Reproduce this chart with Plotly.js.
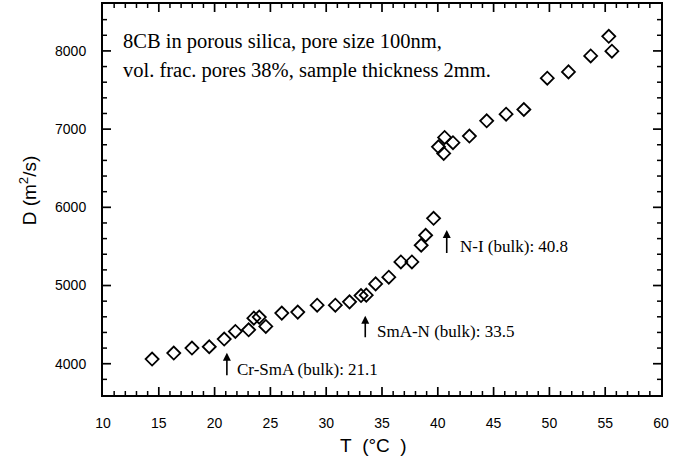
<!DOCTYPE html>
<html>
<head>
<meta charset="utf-8">
<script src="https://cdn.plot.ly/plotly-3.0.1.min.js"></script>
<style>html,body{margin:0;padding:0;background:#fff;}#chart{width:694px;height:464px;}</style>
</head>
<body>
<div id="chart"></div>
<script>
// Temperature (°C)
const temperature = [14.40, 16.34, 17.97, 19.52, 20.86, 21.86, 23.05, 23.52, 24.00, 24.59,
  26.02, 27.45, 29.19, 30.82, 32.09, 33.12, 33.59, 34.43, 35.61, 36.69,
  37.68, 38.51, 38.91, 39.62, 40.06, 40.53, 40.61, 41.36, 42.83, 44.38,
  46.12, 47.71, 49.81, 51.71, 53.70, 55.32, 55.60];
// Diffusion coefficient D (m^2/s)
const diffusion = [4060, 4136, 4200, 4217, 4315, 4413, 4434, 4583, 4596, 4477,
  4647, 4660, 4749, 4749, 4791, 4872, 4877, 5021, 5106, 5302,
  5302, 5515, 5643, 5860, 6774, 6689, 6894, 6826, 6911, 7106,
  7191, 7251, 7651, 7732, 7936, 8187, 7996];

// Bulk transitions
const transitionLabels = ["Cr-SmA (bulk): 21.1", "SmA-N (bulk): 33.5", "N-I (bulk): 40.8"];
const transitionT = [21.1, 33.5, 40.8];
const arrowTipD = [4141, 4615, 5709];
const arrowTailD = [3833, 4320, 5397];
const labelT = [21.83, 34.4, 41.8];
const labelD = [3923, 4414, 5504];

const infoLines = ["8CB in porous silica, pore size 100nm,", "vol. frac. pores 38%, sample thickness 2mm."];
const infoT = 11.6;
const infoD = [8115, 7756];

const xTitle = "T\u00a0\u00a0(\u00b0C\u00a0\u00a0)";
const yTitle = "D (m<sup>2</sup>/s)";

const xRange = [10, 60];
const yRange = [3600, 8600];
const xMajorStep = 5, xMinorStep = 1;
const yMajorStep = 1000, yMinorStep = 200;

const W = 694, H = 464;
const M = {l: 103, r: 33, t: 4, b: 69};

const serif = "Liberation Serif, Times New Roman, serif";
const sans = "Liberation Sans, Arial, sans-serif";

const annotations = [];
for (let i = 0; i < transitionT.length; i++) {
  annotations.push({
    x: transitionT[i], y: arrowTipD[i], xref: 'x', yref: 'y',
    ax: transitionT[i], ay: arrowTailD[i], axref: 'x', ayref: 'y',
    showarrow: true, arrowhead: 2, arrowsize: 1, arrowwidth: 1.6, arrowcolor: '#000', text: ''
  });
  annotations.push({
    x: labelT[i], y: labelD[i], xref: 'x', yref: 'y', xanchor: 'left', yanchor: 'middle',
    showarrow: false, text: transitionLabels[i], font: {family: serif, size: 17, color: '#000'}
  });
}
for (let i = 0; i < infoLines.length; i++) {
  annotations.push({
    x: infoT, y: infoD[i], xref: 'x', yref: 'y', xanchor: 'left', yanchor: 'middle',
    showarrow: false, text: infoLines[i], font: {family: serif, size: 20.5, color: '#000'}
  });
}
annotations.push({
  x: 0.484, y: -0.13, xref: 'paper', yref: 'paper', xanchor: 'center', yanchor: 'middle',
  showarrow: false, text: xTitle, font: {family: sans, size: 19, color: '#000'}
});
annotations.push({
  x: -0.134, y: 0.524, xref: 'paper', yref: 'paper', xanchor: 'center', yanchor: 'middle',
  textangle: -90, showarrow: false, text: yTitle, font: {family: sans, size: 19, color: '#000'}
});

// Inward frame ticks on all four sides, built from the axis ranges and tick steps
const xUnitsPerPx = (xRange[1] - xRange[0]) / (W - M.l - M.r);
const yUnitsPerPx = (yRange[1] - yRange[0]) / (H - M.t - M.b);
function buildTicks(major) {
  const len = major ? 8 : 4;
  const xs = [], ys = [];
  const dy = len * yUnitsPerPx, dx = len * xUnitsPerPx;
  for (let v = xRange[0] + xMinorStep; v < xRange[1] - 1e-9; v += xMinorStep) {
    const isMajor = Math.abs(v / xMajorStep - Math.round(v / xMajorStep)) < 1e-9;
    if (isMajor !== major) continue;
    xs.push(v, v, null, v, v, null);
    ys.push(yRange[0], yRange[0] + dy, null, yRange[1], yRange[1] - dy, null);
  }
  for (let v = yRange[0] + yMinorStep; v < yRange[1] - 1e-9; v += yMinorStep) {
    const isMajor = Math.abs(v / yMajorStep - Math.round(v / yMajorStep)) < 1e-9;
    if (isMajor !== major) continue;
    xs.push(xRange[0], xRange[0] + dx, null, xRange[1], xRange[1] - dx, null);
    ys.push(v, v, null, v, v, null);
  }
  return {xs: xs, ys: ys};
}
const majorTicks = buildTicks(true);
const minorTicks = buildTicks(false);

const tickMajorTrace = {
  x: majorTicks.xs, y: majorTicks.ys, type: 'scatter', mode: 'lines', connectgaps: false,
  line: {color: '#000', width: 1.7}, hoverinfo: 'skip', cliponaxis: false, showlegend: false
};
const tickMinorTrace = {
  x: minorTicks.xs, y: minorTicks.ys, type: 'scatter', mode: 'lines', connectgaps: false,
  line: {color: '#000', width: 1.5}, hoverinfo: 'skip', cliponaxis: false, showlegend: false
};

const trace = {
  x: temperature, y: diffusion, type: 'scatter', mode: 'markers',
  marker: {symbol: 'diamond-open', size: 10, color: '#000', line: {width: 1.8, color: '#000'}},
  hoverinfo: 'skip', showlegend: false
};

const layout = {
  width: W, height: H,
  margin: M,
  paper_bgcolor: '#fff', plot_bgcolor: '#fff',
  showlegend: false,
  xaxis: {
    range: xRange, dtick: xMajorStep, tick0: 10, ticks: '', showline: true, linecolor: '#000', linewidth: 2, mirror: true,
    showgrid: false, zeroline: false, ticklabelstandoff: 14,
    tickfont: {family: sans, size: 14, color: '#000'}
  },
  yaxis: {
    range: yRange, dtick: yMajorStep, tick0: 4000, ticks: '', showline: true, linecolor: '#000', linewidth: 2, mirror: true,
    showgrid: false, zeroline: false, ticklabelstandoff: 12,
    tickfont: {family: sans, size: 14, color: '#000'}
  },
  annotations: annotations
};

Plotly.newPlot('chart', [tickMinorTrace, tickMajorTrace, trace], layout, {staticPlot: true, displayModeBar: false});
</script>
</body>
</html>
